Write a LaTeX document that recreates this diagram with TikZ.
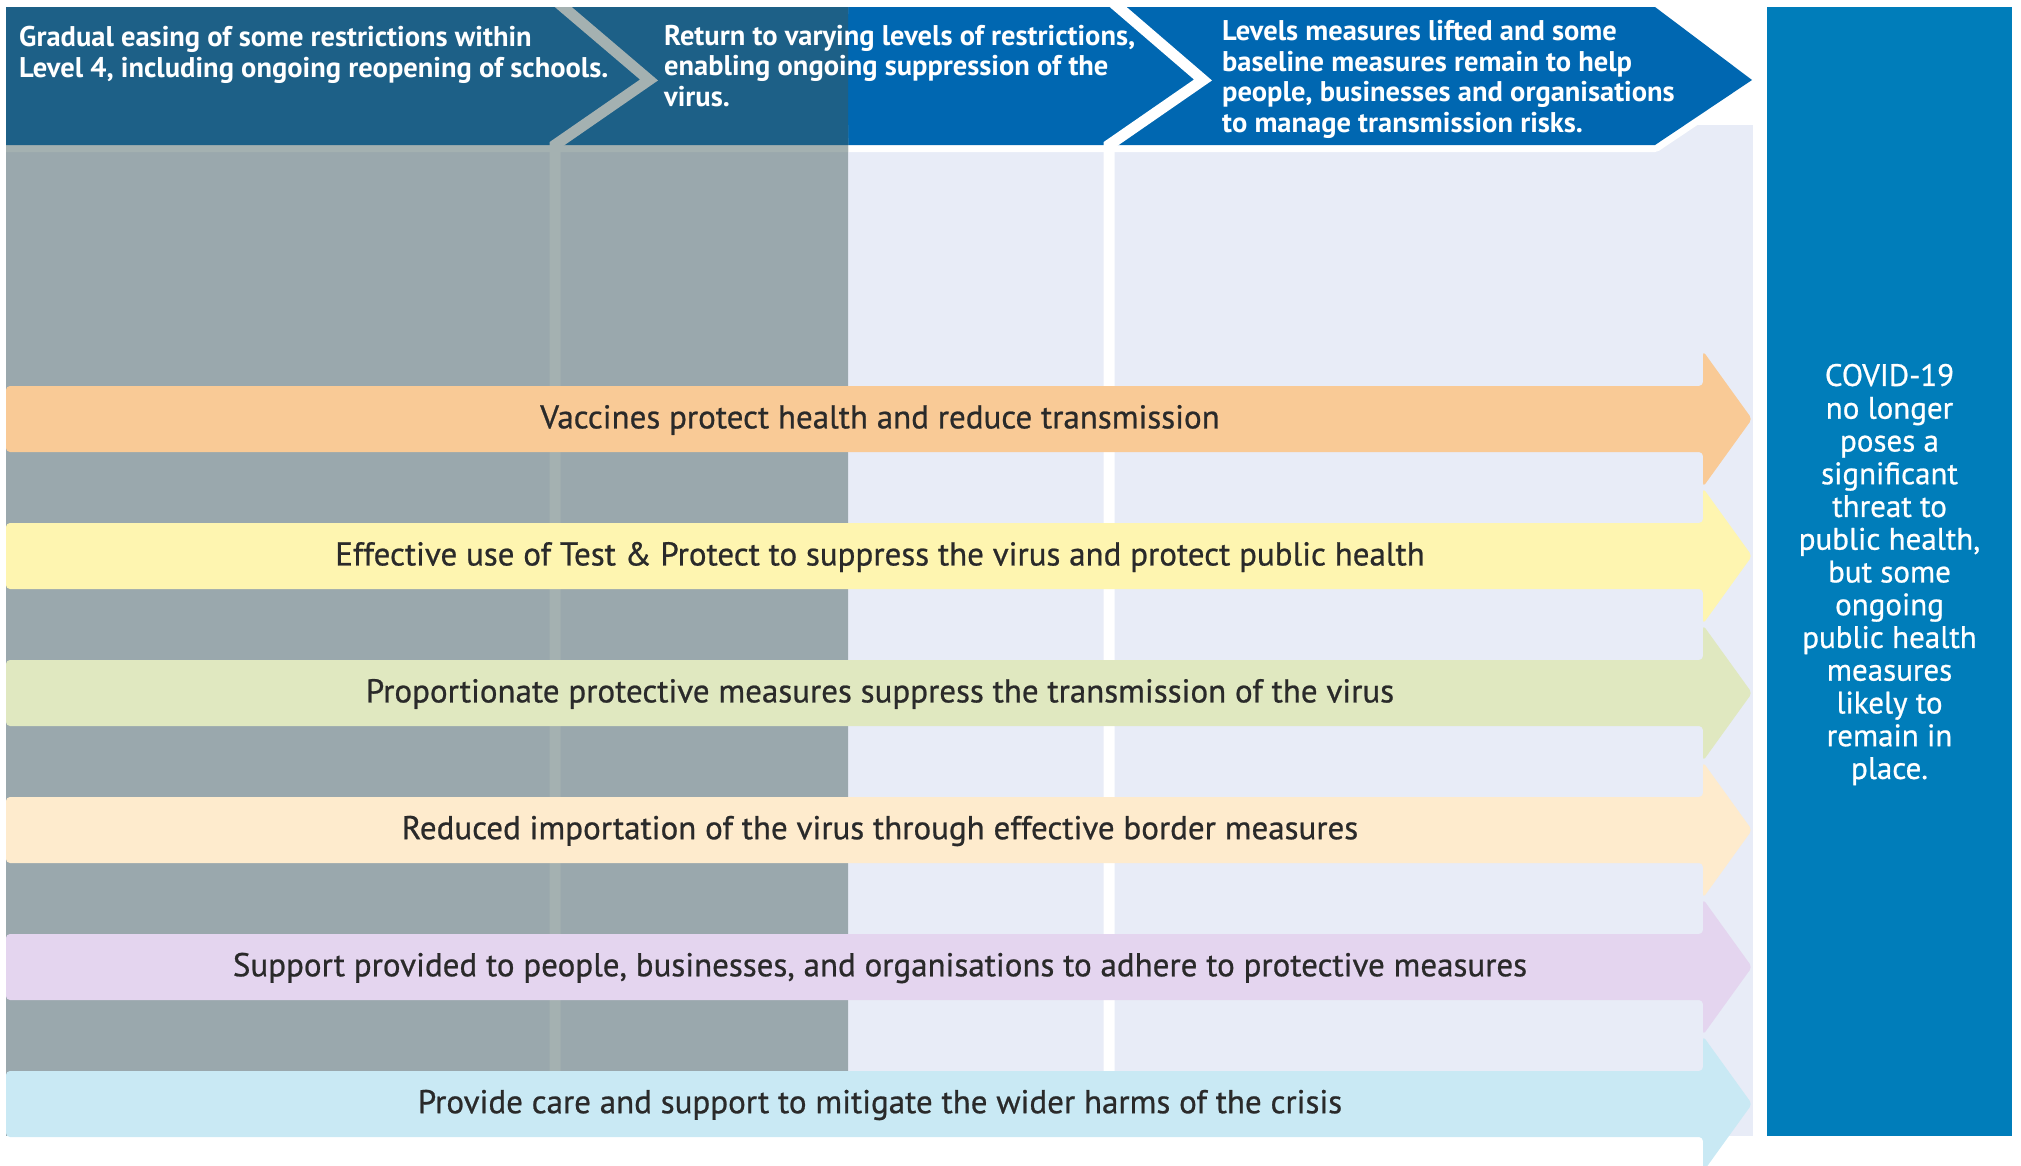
\documentclass[tikz,border=0pt]{standalone}
\usepackage{fontspec}
\setmainfont{PT Sans}
\newfontfamily\medfont{PT Sans}[FakeBold=0.7]
\definecolor{hdrblue}{HTML}{0067B1}
\definecolor{hdrdark}{HTML}{1D6087}
\definecolor{bodylav}{HTML}{E8ECF7}
\definecolor{bodygray}{HTML}{9AA8AD}
\definecolor{sepgray}{HTML}{A4B1B1}
\definecolor{covidblue}{HTML}{007DBA}
\definecolor{aorange}{HTML}{F9CA96}
\definecolor{ayellow}{HTML}{FEF5B0}
\definecolor{agreen}{HTML}{E0E8C0}
\definecolor{acream}{HTML}{FEEBCD}
\definecolor{apurple}{HTML}{E4D5EF}
\definecolor{ablue}{HTML}{C9E9F4}
\definecolor{atext}{HTML}{2A2A2A}
\begin{document}
\begin{tikzpicture}[x=1pt,y=-1pt,
  hdrtext/.style={anchor=west,inner sep=0pt,align=left,text=white,
    font=\bfseries\fontsize{28.5}{30.5}\selectfont},
  arrowtext/.style={inner sep=0pt,text=atext,font=\medfont\fontsize{33}{36}\selectfont},
  sepline/.style={line width=11pt,line join=miter}]
\useasboundingbox (0,0) rectangle (2021,1165);
% body background
\fill[bodylav] (6,125) rectangle (1753,1136);
% header band with white outline
\draw[white,line width=14pt,line join=round] (6,7) -- (1655,7) -- (1752,80) -- (1655,145) -- (6,145) -- cycle;
\fill[hdrblue] (6,7) -- (1655,7) -- (1752,80) -- (1655,145) -- (6,145) -- cycle;
% second separator
\draw[white,sepline] (1110,0) -- (1203,80) -- (1109,145) -- (1109,1136);
% greyed overlay of the first part
\begin{scope}
  \clip (6,7) rectangle (848,1165);
  \fill[bodygray] (6,125) rectangle (1753,1136);
  \draw[sepgray,line width=14pt,line join=round] (6,7) -- (1655,7) -- (1752,80) -- (1655,145) -- (6,145) -- cycle;
  \fill[hdrdark] (6,7) -- (1655,7) -- (1752,80) -- (1655,145) -- (6,145) -- cycle;
  \draw[sepgray,sepline] (555,0) -- (649,80) -- (555,145) -- (555,1136);
\end{scope}
% header texts
\node[hdrtext] (hdr1) at (19,55) {Gradual easing of some restrictions within\\Level 4, including ongoing reopening of schools.};
\node[hdrtext] (hdr2) at (664,66) {Return to varying levels of restrictions,\\enabling ongoing suppression of the\\virus.};
\node[hdrtext] (hdr3) at (1222,79.5) {Levels measures lifted and some\\baseline measures remain to help\\people, businesses and organisations\\to manage transmission risks.};
% arrows
\foreach \c/\col/\nm/\txt in {
  419/aorange/vac/{Vaccines protect health and reduce transmission},
  556/ayellow/tp/{Effective use of Test \& Protect to suppress the virus and protect public health},
  693/agreen/ppm/{Proportionate protective measures suppress the transmission of the virus},
  830/acream/bor/{Reduced importation of the virus through effective border measures},
  967/apurple/sup/{Support provided to people, businesses, and organisations to adhere to protective measures},
  1104/ablue/care/{Provide care and support to mitigate the wider harms of the crisis}}{
  \fill[\col,rounded corners=4pt] (6,\c-33) -- (1703,\c-33) -- (1703,\c-68) -- (1752,\c) -- (1703,\c+68) -- (1703,\c+33) -- (6,\c+33) -- cycle;
  \node[arrowtext] (\nm) at (880,\c+1) {\txt};
}
% final outcome box
\node[fill=covidblue,minimum width=245pt,minimum height=1129pt,inner sep=0pt,
  text=white,align=center,font=\medfont\fontsize{31}{32.75}\selectfont] (covid) at (1889.5,571.5) {};
\node[text=white,align=center,inner sep=0pt,font=\medfont\fontsize{31}{32.75}\selectfont] (covidtxt) at (1889.5,574.5)
  {COVID-19\\no longer\\poses a\\significant\\threat to\\public health,\\but some\\ongoing\\public health\\measures\\likely to\\remain in\\place.};
\end{tikzpicture}
\end{document}
